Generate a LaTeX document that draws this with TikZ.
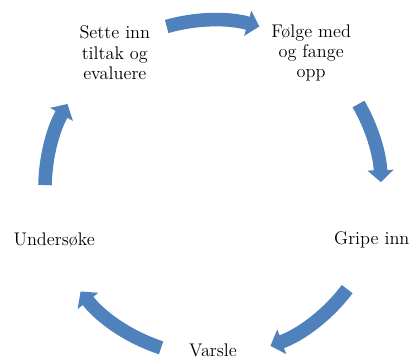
\documentclass[tikz,border=0pt]{standalone}
\usepackage{tikz}
\usetikzlibrary{arrows.meta}
\definecolor{cycleBlue}{RGB}{79, 129, 189}

\begin{document}
\begin{tikzpicture}[
    stage/.style={align=center, font=\fontsize{13}{14.5}\selectfont},
    cyc/.style={line width=0.34cm, cycleBlue, -{Triangle[width=0.64cm, length=0.3cm]}}
  ]
    \useasboundingbox (-5.325,-4.3) rectangle (4.9,4.7);

    % Stages
    \node[stage] (follow) at (54:4.175) {Følge med\\og fange\\opp};
    \node[stage] (act) at (-18:4.175) {Gripe inn};
    \node[stage] (notify) at (-90:4.05) {Varsle};
    \node[stage] (examine) at (198:4.175) {Undersøke};
    \node[stage] (evaluate) at (126:4.175) {Sette inn\\tiltak og\\evaluere};

    % Arrows
    \foreach \s/\e [count=\i] in {106/74, 30/2, -37/-70, -108/-142, 179/150} {
      \coordinate (tail\i) at (\s:4.2);
      \draw[cyc] (tail\i) arc[start angle=\s, end angle=\e, radius=4.2];
    }
  \end{tikzpicture}
\end{document}
